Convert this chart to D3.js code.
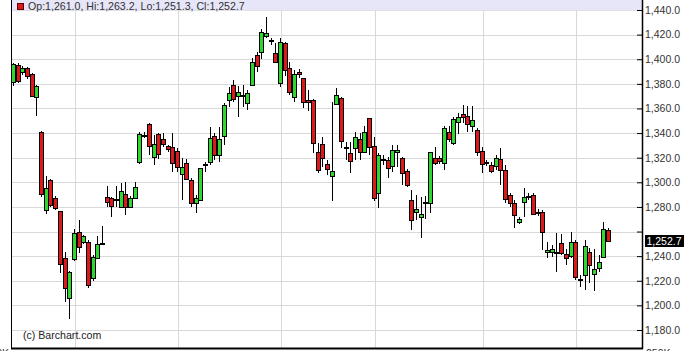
<!DOCTYPE html>
<meta charset="utf-8">
<style>
body { margin: 0; background: #fff; }
svg { display: block; font-family: "Liberation Sans", Arial, sans-serif; }
</style>
<script src="https://d3js.org/d3.v7.min.js"></script>
<div id="chart"></div>
<script>
// daily OHLC, one entry per trading day (oldest first)
var opens = [1381.5,1395.1,1389.6,1392.6,1388.0,1369.6,1340.6,1277.5,1302.2,1287.0,
  1276.7,1238.8,1205.7,1237.4,1259.9,1251.8,1251.8,1222.0,1238.2,1250.5,
  1288.0,1287.6,1286.0,1279.7,1290.5,1279.7,1287.0,1316.3,1338.0,1347.1,
  1320.3,1339.2,1335.2,1329.5,1328.4,1325.7,1306.5,1315.4,1301.9,1282.9,
  1285.6,1314.4,1316.3,1337.6,1322.2,1337.6,1366.9,1379.1,1370.1,1371.0,
  1364.7,1379.1,1403.4,1406.1,1419.0,1415.0,1405.3,1380.4,1412.9,1392.6,
  1369.6,1389.9,1384.5,1366.5,1366.9,1324.9,1330.9,1314.9,1305.4,1363.6,
  1368.3,1328.0,1323.6,1327.6,1334.9,1324.9,1352.0,1329.5,1291.0,1318.5,
  1318.1,1313.3,1324.4,1319.5,1309.4,1285.6,1275.6,1272.0,1283.3,1282.9,
  1320.0,1319.5,1315.4,1340.6,1331.7,1348.7,1355.5,1353.9,1345.8,1342.5,
  1325.4,1315.8,1314.1,1313.3,1318.7,1310.0,1289.7,1282.9,1267.5,1284.3,
  1288.0,1289.7,1276.1,1276.1,1243.1,1243.6,1243.2,1250.4,1241.5,1240.1,
  1251.2,1221.0,1224.7,1243.6,1225.5,1230.1,1239.6,1261.0];
var highs = [1396.7,1396.7,1394.5,1393.9,1389.0,1379.0,1341.5,1305.1,1303.0,1288.9,
  1277.0,1243.6,1228.0,1262.0,1269.4,1257.5,1253.0,1241.0,1256.0,1264.5,
  1297.0,1288.3,1296.9,1299.7,1300.5,1289.0,1300.0,1341.0,1341.0,1348.0,
  1338.2,1340.0,1340.0,1330.5,1339.8,1327.5,1319.5,1318.6,1303.2,1289.7,
  1312.0,1316.8,1344.7,1339.8,1344.7,1364.2,1377.2,1383.1,1378.3,1379.1,
  1375.0,1400.7,1406.1,1424.3,1434.6,1417.0,1412.9,1417.0,1414.3,1398.0,
  1391.3,1392.0,1385.0,1375.0,1367.5,1331.7,1337.0,1318.1,1365.5,1376.4,
  1369.6,1333.0,1333.0,1341.1,1340.0,1346.0,1352.5,1337.0,1323.6,1322.0,
  1320.8,1330.3,1330.3,1320.8,1311.0,1293.8,1289.7,1288.3,1288.9,1324.9,
  1328.9,1321.0,1345.8,1345.8,1353.0,1356.1,1362.8,1362.0,1362.0,1343.9,
  1328.9,1318.0,1316.8,1322.0,1327.6,1314.1,1291.0,1285.6,1272.0,1295.1,
  1291.0,1291.6,1278.0,1277.5,1251.8,1249.0,1259.0,1258.0,1245.6,1259.9,
  1253.0,1224.7,1253.3,1246.4,1245.6,1240.9,1268.0,1263.2];
var lows = [1378.3,1380.4,1387.2,1383.7,1369.0,1353.5,1288.0,1274.2,1280.0,1277.5,
  1226.0,1203.0,1188.7,1236.0,1242.8,1250.0,1214.4,1220.0,1237.4,1250.0,
  1280.2,1272.0,1280.2,1278.9,1273.4,1279.0,1286.5,1315.0,1336.0,1322.0,
  1314.0,1319.0,1329.0,1325.0,1308.2,1308.0,1285.6,1302.0,1280.2,1274.8,
  1285.0,1308.6,1314.1,1318.1,1316.8,1330.3,1361.0,1365.5,1353.3,1361.5,
  1358.8,1378.3,1389.9,1400.0,1417.0,1411.6,1396.7,1377.2,1386.4,1371.0,
  1365.5,1385.0,1360.0,1358.0,1323.6,1307.3,1312.7,1305.9,1285.1,1362.8,
  1327.6,1318.1,1307.3,1318.1,1318.0,1324.0,1322.0,1285.0,1278.9,1314.0,
  1303.2,1308.6,1312.2,1297.8,1296.0,1261.3,1269.4,1254.5,1270.0,1275.3,
  1314.1,1315.0,1310.0,1333.0,1330.0,1339.0,1348.0,1341.1,1341.0,1321.4,
  1307.3,1313.0,1307.8,1310.0,1297.8,1282.9,1280.0,1262.6,1266.0,1272.0,
  1285.6,1273.4,1273.0,1245.0,1238.2,1239.0,1227.4,1241.0,1232.8,1238.2,
  1221.0,1215.2,1212.1,1218.0,1211.3,1227.4,1239.0,1251.3];
var closes = [1395.9,1382.3,1392.6,1386.4,1370.4,1378.3,1290.3,1295.6,1281.6,1278.9,
  1233.4,1214.4,1227.4,1259.0,1247.2,1256.4,1216.6,1239.0,1249.6,1250.8,
  1284.3,1281.0,1286.5,1293.1,1280.2,1287.0,1295.9,1339.2,1338.8,1329.5,
  1331.0,1323.0,1331.2,1327.0,1315.4,1312.7,1312.7,1302.7,1283.5,1287.0,
  1311.4,1314.8,1335.7,1322.2,1334.9,1362.8,1372.3,1367.4,1373.6,1371.3,
  1372.3,1398.0,1394.5,1421.9,1421.0,1415.3,1398.0,1413.7,1391.3,1373.6,
  1388.0,1388.0,1365.5,1365.5,1331.7,1310.0,1319.5,1310.6,1309.2,1371.0,
  1333.8,1328.3,1317.6,1337.0,1324.9,1341.1,1328.9,1287.0,1322.2,1318.9,
  1311.4,1326.3,1326.3,1307.8,1297.8,1269.4,1278.0,1274.2,1283.7,1324.4,
  1315.9,1317.0,1343.9,1334.9,1351.2,1353.3,1353.3,1347.1,1350.6,1324.9,
  1314.9,1316.2,1309.4,1319.5,1310.0,1286.2,1282.9,1273.4,1270.0,1287.8,
  1288.5,1274.0,1274.8,1259.4,1245.0,1245.8,1243.6,1242.3,1238.2,1251.2,
  1222.8,1221.4,1248.5,1232.8,1229.3,1235.0,1261.8,1252.7];

// first trading day of each month (index into the arrays above)
var monthStarts = [13, 35, 57, 77, 100, 120];
var yTicks = [1180, 1200, 1220, 1240, 1260, 1280, 1300, 1320, 1340, 1360, 1380, 1400, 1420, 1440];

var width = 684, height = 351;
var left = 12, right = 642, bottom = 348;

var svg = d3.select("#chart")
  .append("svg")
    .attr("width", width)
    .attr("height", height);

var x = d3.scaleLinear().domain([0, opens.length - 1]).range([13, 608]);
var y = d3.scaleLinear().domain([1180, 1440]).range([330, 10]);

var candles = opens.map(function(o, i) {
  return {i: i, o: o, h: highs[i], l: lows[i], c: closes[i]};
});
var last = candles[candles.length - 1];

// grid
svg.append("g").selectAll("line")
  .data(yTicks)
  .enter().append("line")
    .attr("x1", left).attr("x2", right)
    .attr("y1", function(d) { return Math.round(y(d)) + 0.5; })
    .attr("y2", function(d) { return Math.round(y(d)) + 0.5; })
    .attr("stroke", "#d9d9d9");
svg.append("g").selectAll("line")
  .data(monthStarts)
  .enter().append("line")
    .attr("x1", function(d) { return Math.round(x(d)) + 1.5; })
    .attr("x2", function(d) { return Math.round(x(d)) + 1.5; })
    .attr("y1", 0).attr("y2", bottom)
    .attr("stroke", "#d9d9d9");

// candles
var cx = function(d) { return Math.round(x(d.i)); };
svg.append("g").selectAll("line")
  .data(candles)
  .enter().append("line")
    .attr("x1", function(d) { return cx(d) + 0.5; })
    .attr("x2", function(d) { return cx(d) + 0.5; })
    .attr("y1", function(d) { return Math.round(y(d.h)); })
    .attr("y2", function(d) { return Math.round(y(d.l)); })
    .attr("stroke", "#000");
svg.append("g").selectAll("rect")
  .data(candles)
  .enter().append("rect")
    .attr("x", function(d) { return cx(d) - 1.5; })
    .attr("width", 4)
    .attr("y", function(d) { return Math.round(y(Math.max(d.o, d.c))) + 0.5; })
    .attr("height", function(d) {
      return Math.max(1, Math.round(y(Math.min(d.o, d.c))) - Math.round(y(Math.max(d.o, d.c))));
    })
    .attr("fill", function(d) { return d.c > d.o ? "#2fd82f" : "#dd1a1a"; })
    .attr("stroke", "#000")
    .attr("stroke-width", 1);

// header
svg.append("rect")
  .attr("x", left).attr("y", 0)
  .attr("width", right - left).attr("height", 10.5)
  .attr("fill", "#e6e6f8");
svg.append("rect")
  .attr("x", 17.5).attr("y", 3.5)
  .attr("width", 6).attr("height", 6)
  .attr("fill", "#dd1a1a").attr("stroke", "#600");
var fmt = d3.format(",.1f");
svg.append("text")
  .attr("x", 28).attr("y", 10)
  .attr("font-size", "10.6px").attr("fill", "#333")
  .text("Op:" + fmt(last.o) + ", Hi:" + fmt(last.h) + ", Lo:" + fmt(last.l) + ", Cl:" + fmt(last.c));

// right axis
var axis = svg.append("g")
  .attr("transform", "translate(" + right + ",0)")
  .call(d3.axisRight(y)
    .tickValues(yTicks)
    .tickSizeInner(-5)
    .tickSizeOuter(0)
    .tickPadding(3)
    .tickFormat(function(d) { return Math.abs(y(d) - y(last.c)) < 12 ? "" : fmt(d); }));
axis.select(".domain").remove();
axis.selectAll("line").attr("stroke", "#000");
axis.selectAll("text")
  .attr("font-family", "Liberation Sans, Arial, sans-serif")
  .attr("font-size", "10.5px")
  .attr("fill", "#333");

// frame
svg.append("line").attr("x1", 11.5).attr("x2", 11.5).attr("y1", 0).attr("y2", bottom)
  .attr("stroke", "#000");
svg.append("line").attr("x1", right + 0.5).attr("x2", right + 0.5).attr("y1", 0).attr("y2", bottom + 1)
  .attr("stroke", "#000").attr("stroke-width", 1.5);
svg.append("line").attr("x1", 11).attr("x2", right + 1).attr("y1", bottom + 0.5).attr("y2", bottom + 0.5)
  .attr("stroke", "#000").attr("stroke-width", 2);

// last price box
var py = Math.round(y(last.c));
svg.append("rect")
  .attr("x", 645).attr("y", py - 6)
  .attr("width", 39).attr("height", 12)
  .attr("fill", "#000");
svg.append("text")
  .attr("x", 664).attr("y", py + 4)
  .attr("text-anchor", "middle")
  .attr("font-size", "10.5px").attr("fill", "#fff")
  .text(fmt(last.c));

svg.append("text")
  .attr("x", 23).attr("y", 339)
  .attr("font-size", "10.6px").attr("fill", "#222")
  .text("(c) Barchart.com");

// volume panel labels, cut off at the bottom edge
svg.append("text")
  .attr("x", 9).attr("y", 357).attr("text-anchor", "end")
  .attr("font-size", "10.5px").attr("fill", "#333")
  .text("0K");
svg.append("text")
  .attr("x", 646).attr("y", 357)
  .attr("font-size", "10.5px").attr("fill", "#333")
  .text("250K");
</script>
